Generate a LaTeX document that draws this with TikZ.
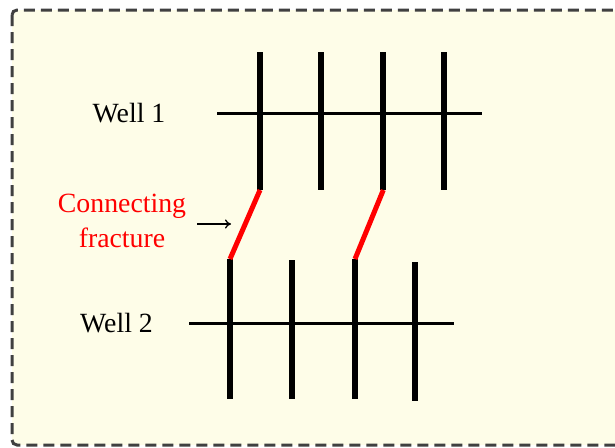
\documentclass[tikz,border=0pt]{standalone}
\usepackage{fontspec}
\setmainfont{Liberation Serif}
\usetikzlibrary{arrows.meta}
\definecolor{paper}{RGB}{254,253,232}
\definecolor{frame}{RGB}{64,64,64}
\definecolor{fracred}{RGB}{255,0,0}
\tikzset{
  wellline/.style={line width=3pt, black},
  fracline/.style={line width=6pt, black},
  linkline/.style={line width=5pt, fracred},
  lbl/.style={inner sep=0pt, font=\fontsize{27.8}{35}\selectfont},
}
\begin{document}
\begin{tikzpicture}[x=1pt, y=-1pt]
  \useasboundingbox (0,0) rectangle (615,447);
  % dashed panel, its right side runs past the page edge
  \begin{scope}
    \clip (0,0) rectangle (615,447);
    \draw[fill=paper, draw=frame, line width=3pt, dash pattern=on 11pt off 6pt, rounded corners=5pt]
      (12,10) rectangle (640,445);
  \end{scope}

  % Well 1
  \coordinate (w1a) at (217,113);
  \coordinate (w1b) at (482,113);
  \foreach \i/\x in {1/260, 2/320.7, 3/383.3, 4/444} {
    \coordinate (u\i t) at (\x,52);
    \coordinate (u\i b) at (\x,190);
  }
  % Well 2
  \coordinate (w2a) at (189,323);
  \coordinate (w2b) at (454,323);
  \foreach \i/\x/\t/\b in {1/230/259/399, 2/292/260/399, 3/355/259/399, 4/415/262/401} {
    \coordinate (d\i t) at (\x,\t);
    \coordinate (d\i b) at (\x,\b);
  }

  % hydraulic fractures
  \foreach \i in {1,...,4} {
    \draw[fracline] (u\i t) -- (u\i b);
    \draw[fracline] (d\i t) -- (d\i b);
  }
  % wellbores
  \draw[wellline] (w1a) -- (w1b);
  \draw[wellline] (w2a) -- (w2b);

  % fractures that link the two wells
  \draw[linkline] (u1b) -- (d1t);
  \draw[linkline] (u3b) -- (d3t);

  % labels
  \node[lbl] (well1) at (129,113) {Well 1};
  \node[lbl] (well2) at (116.5,323) {Well 2};
  \node[lbl, text=fracred, align=center] (conn) at (122,221) {Connecting\\fracture};
  \coordinate (arrtip) at (231,224);
  \draw[-{To[length=6pt,width=9pt]}, line width=1.3pt] (197,224) -- (arrtip);
\end{tikzpicture}
\end{document}
